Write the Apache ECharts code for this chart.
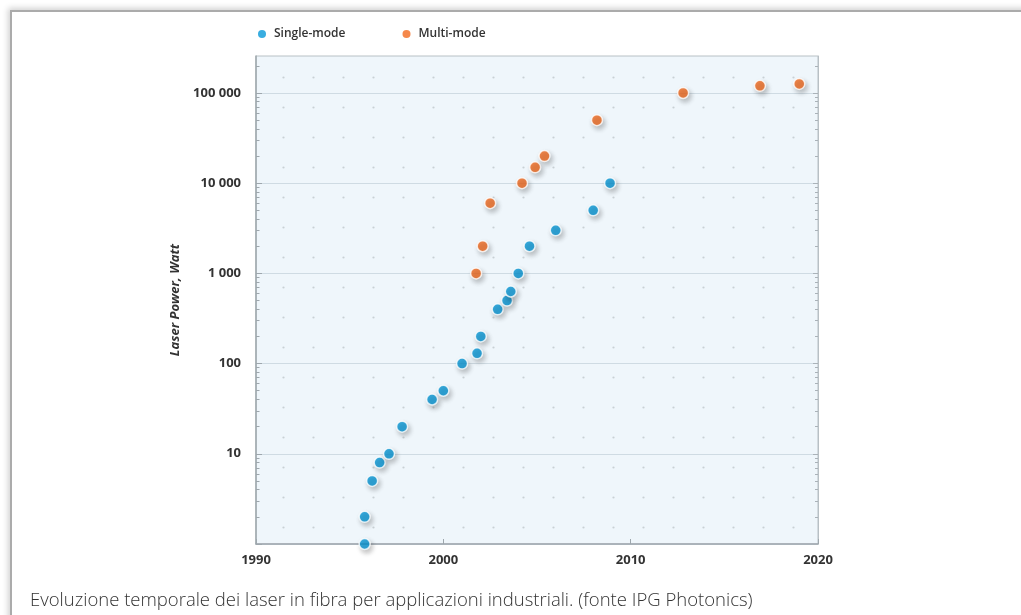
<!DOCTYPE html>
<html>
<head>
<meta charset="utf-8">
<script src="https://cdn.jsdelivr.net/npm/echarts@6/dist/echarts.min.js"></script>
<style>
  html, body { margin: 0; padding: 0; background: #fff; overflow: hidden; }
  #frame { position: absolute; left: 10px; top: 10px; width: 1100px; height: 700px;
    border-top: 2px solid #ababab; border-left: 2px solid #ababab;
    box-shadow: -2px -2px 6px rgba(0,0,0,0.18); background: #fff; }
  #chart { position: absolute; left: 0; top: 0; width: 1021px; height: 615px; }
</style>
</head>
<body>
<div id="frame"></div>
<div id="chart"></div>
<script>
// ---- data ----
const singleYears = [1995.8, 1995.8, 1996.2, 1996.6, 1997.1, 1997.8, 1999.4, 2000.0, 2001.0, 2001.8, 2002.0, 2002.9, 2003.4, 2003.6, 2004.0, 2004.6, 2006.0, 2008.0, 2008.9];
const singlePower = [1, 2, 5, 8, 10, 20, 40, 50, 100, 130, 200, 400, 500, 630, 1000, 2000, 3000, 5000, 10000];
const multiYears = [2001.75, 2002.1, 2002.5, 2004.2, 2004.9, 2005.4, 2008.2, 2012.8, 2016.9, 2019.0];
const multiPower = [1000, 2000, 6000, 10000, 15000, 20000, 50000, 100000, 120000, 126000];
const seriesNames = ['Single-mode', 'Multi-mode'];
const yearTicks = [1990, 2000, 2010, 2020];
const powerLabels = [10, 100, 1000, 10000, 100000];
const majorPower = [1, 10, 100, 1000, 10000, 100000];
const minorPower = [];
for (const d of [1, 10, 100, 1000, 10000, 100000]) {
  for (let m = 2; m <= 9; m++) { if (d * m < 257000) minorPower.push(d * m); }
}
const captionText = 'Evoluzione temporale dei laser in fibra per applicazioni industriali. (fonte IPG Photonics)';

// ---- dotted background pattern ----
const tile = document.createElement('canvas');
tile.width = 30; tile.height = 30;
const tctx = tile.getContext('2d');
tctx.fillStyle = '#eff6fb';
tctx.fillRect(0, 0, 30, 30);
tctx.fillStyle = '#c9d0d5';
tctx.beginPath(); tctx.arc(13.5, 17.5, 1.1, 0, Math.PI * 2); tctx.fill();

const fmt = v => String(Math.round(v)).replace(/\B(?=(\d{3})+(?!\d))/g, ' ');
const font = '"Open Sans", "DejaVu Sans", sans-serif';
const axisCol = '#9ea7ad';

function logAxis(extra) {
  return Object.assign({
    type: 'log', logBase: 10, min: 1, max: 257000,
    axisLine: { show: false }, axisLabel: { show: false },
    splitLine: { show: false }, axisTick: { show: false }
  }, extra);
}

const chart = echarts.init(document.getElementById('chart'));
chart.setOption({
  animation: false,
  title: {
    text: captionText, left: 25, top: 586,
    textStyle: { fontFamily: '"Open Sans", sans-serif', fontWeight: 300, fontSize: 18.5, color: '#333' }
  },
  legend: {
    data: seriesNames, left: 253, top: 23, icon: 'circle',
    itemWidth: 14, itemHeight: 8, itemGap: 57,
    itemStyle: { borderWidth: 0, shadowBlur: 0, shadowOffsetX: 0, shadowOffsetY: 0 },
    textStyle: { fontFamily: font, fontWeight: 600, fontSize: 12, color: '#333' }
  },
  grid: {
    left: 256, right: 203, top: 56, bottom: 71, show: true,
    backgroundColor: { image: tile, repeat: 'repeat' },
    borderColor: '#b8c0c5', borderWidth: 1
  },
  xAxis: {
    type: 'value', min: yearTicks[0], max: yearTicks[yearTicks.length - 1], interval: 10,
    axisLine: { show: true, lineStyle: { color: axisCol, width: 1.5 } },
    axisTick: { show: true, inside: true, length: 5, lineStyle: { color: axisCol } },
    axisLabel: { margin: 10, fontFamily: font, fontWeight: 700, fontSize: 13, color: '#333',
      showMinLabel: true, showMaxLabel: true, formatter: v => String(v) },
    splitLine: { show: false }
  },
  yAxis: [
    logAxis({
      position: 'left',
      name: 'Laser Power, Watt', nameLocation: 'middle', nameGap: 61,
      nameTextStyle: { fontFamily: font, fontWeight: 700, fontStyle: 'italic', fontSize: 13, color: '#333' },
      axisLine: { show: true, lineStyle: { color: axisCol, width: 1.5 } },
      axisTick: { show: true, inside: true, length: 6, customValues: majorPower, lineStyle: { color: axisCol } },
      axisLabel: { show: true, customValues: powerLabels, margin: 15, formatter: fmt,
        fontFamily: font, fontWeight: 700, fontSize: 13, color: '#333' },
      splitLine: { show: true, lineStyle: { color: '#cfdbe3', width: 1 } }
    }),
    logAxis({
      position: 'left',
      axisTick: { show: true, inside: true, length: 3.5, customValues: minorPower, lineStyle: { color: axisCol } }
    }),
    logAxis({
      position: 'right',
      axisLine: { show: true, lineStyle: { color: '#b8c0c5', width: 1 } },
      axisTick: { show: true, inside: true, length: 5, customValues: majorPower, lineStyle: { color: '#aab2b8' } }
    }),
    logAxis({
      position: 'right',
      axisTick: { show: true, inside: true, length: 3, customValues: minorPower, lineStyle: { color: '#aab2b8' } }
    })
  ],
  series: [
    {
      name: seriesNames[0], type: 'scatter', yAxisIndex: 0, clip: false,
      symbolSize: 11,
      itemStyle: { color: '#0898d8', borderColor: '#fff', borderWidth: 1.5,
        shadowColor: 'rgba(0,0,0,0.28)', shadowBlur: 5, shadowOffsetX: 2, shadowOffsetY: 3 },
      data: singleYears.map((y, i) => [y, singlePower[i]])
    },
    {
      name: seriesNames[1], type: 'scatter', yAxisIndex: 0, clip: false,
      symbolSize: 11,
      itemStyle: { color: '#f36a1e', borderColor: '#fff', borderWidth: 1.5,
        shadowColor: 'rgba(0,0,0,0.28)', shadowBlur: 5, shadowOffsetX: 2, shadowOffsetY: 3 },
      data: multiYears.map((y, i) => [y, multiPower[i]])
    }
  ]
});
</script>
</body>
</html>
